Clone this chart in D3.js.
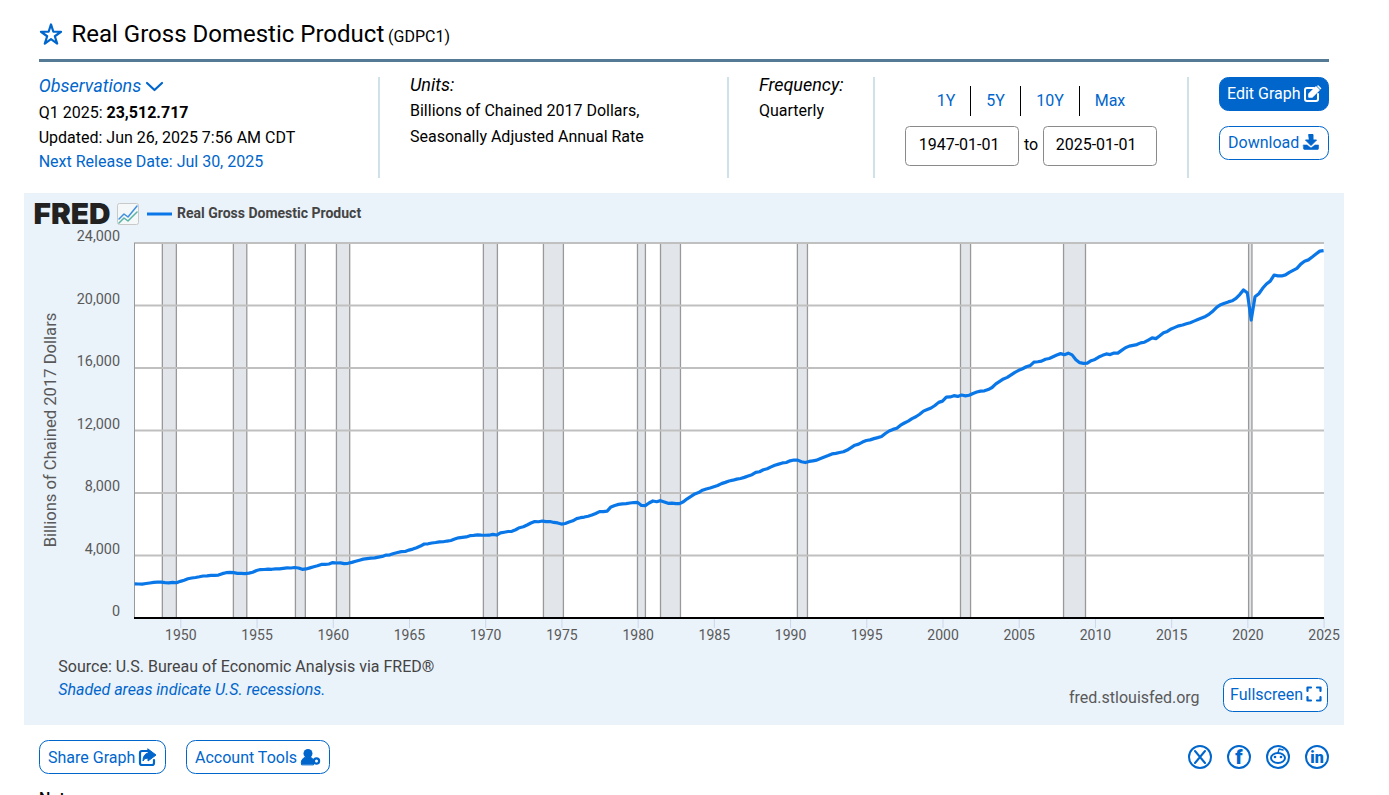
<!DOCTYPE html>
<html><head><meta charset="utf-8">
<script src="https://cdn.jsdelivr.net/npm/d3@7/dist/d3.min.js"></script>
<style>
html,body{margin:0;padding:0;background:#fff;overflow:hidden}
svg{display:block}
text{font-family:Roboto,sans-serif}
</style></head><body><div id="c"></div>
<script>
const startYear = 1947;
const gdpValues = [
2183,2177,2172,2206, 2240,2277,2290,2292, 2261,2253,2276,2257,
2346,2418,2511,2559, 2594,2638,2688,2702, 2722,2726,2749,2839,
2900,2925,2905,2860, 2850,2845,2875,2930, 3040,3100,3105,3125,
3118,3140,3142,3180, 3205,3200,3232,3200, 3115,3140,3210,3280,
3340,3430,3430,3455, 3545,3520,3528,3480, 3500,3560,3630,3700,
3770,3805,3835,3850, 3900,3940,4025,4045, 4130,4190,4245,4255,
4345,4410,4500,4605, 4735,4750,4800,4830, 4875,4880,4925,4960,
5050,5130,5165,5190, 5270,5285,5320,5300, 5295,5300,5355,5310,
5450,5490,5535,5550, 5650,5780,5840,5950, 6080,6175,6160,6205,
6165,6175,6115,6085, 6010,6050,6140,6220, 6360,6420,6460,6515,
6590,6690,6810,6805, 6845,7110,7205,7270, 7300,7320,7360,7390,
7400,7200,7190,7360, 7490,7440,7510,7430, 7340,7350,7320,7320,
7440,7630,7780,7940, 8030,8180,8260,8320, 8400,8480,8600,8680,
8770,8820,8890,8930, 9000,9090,9170,9320, 9360,9490,9550,9670,
9780,9850,9925,9950, 10060,10110,10105,10000, 9950,10020,10060,10105,
10210,10300,10395,10500, 10535,10590,10640,10750, 10900,11060,11130,11260,
11360,11400,11480,11545, 11620,11810,11970,12070, 12140,12340,12480,12600,
12760,12880,13040,13240, 13340,13440,13600,13800, 13880,14130,14150,14230,
14180,14270,14220,14255, 14370,14460,14520,14540, 14620,14750,14980,15140,
15300,15400,15560,15720, 15850,15950,16080,16150, 16380,16400,16440,16560,
16610,16720,16830,16920, 16850,16950,16840,16530, 16340,16300,16310,16470,
16550,16700,16810,16900, 16860,16960,16950,17130, 17300,17400,17450,17500,
17610,17650,17790,17930, 17880,18060,18250,18340, 18500,18600,18700,18750,
18830,18900,19000,19100, 19200,19300,19450,19650, 19900,20050,20150,20230,
20300,20450,20700,21000, 20800,19070,20560,20750, 21100,21380,21560,21950,
21900,21890,21960,22120, 22250,22380,22650,22830, 22920,23100,23290,23480,
23513];
const recessionStarts = [1948.82,1953.48,1957.55,1960.24,1969.88,1973.82,1979.99,1981.5,1990.48,2001.18,2007.94,2020.08];
const recessionEnds   = [1949.74,1954.36,1958.2,1961.11,1970.8,1975.13,1980.51,1982.81,1991.14,2001.84,2009.38,2020.3];
const xTickYears = [1950,1955,1960,1965,1970,1975,1980,1985,1990,1995,2000,2005,2010,2015,2020,2025];
const yTickValues = [0,4000,8000,12000,16000,20000,24000];
const seriesName = "Real Gross Domestic Product";

const BLUE="#0066cc", GREY="#595959";
const svg=d3.select("#c").append("svg").attr("width",1389).attr("height",795);
const T=(x,y,s,o={})=>{const t=svg.append("text").attr("x",x).attr("y",y).text(s)
  .attr("font-size",o.size||16).attr("fill",o.fill||"#000");
  if(o.weight)t.attr("font-weight",o.weight); if(o.italic)t.attr("font-style","italic");
  if(o.anchor)t.attr("text-anchor",o.anchor); if(o.ls)t.attr("letter-spacing",o.ls);return t;};
const L=(x1,y1,x2,y2,c,w)=>svg.append("line").attr("x1",x1).attr("y1",y1).attr("x2",x2).attr("y2",y2).attr("stroke",c).attr("stroke-width",w);
const R=(x,y,w,h,r,fill,stroke)=>svg.append("rect").attr("x",x+.5).attr("y",y+.5).attr("width",w-1).attr("height",h-1).attr("rx",r).attr("fill",fill).attr("stroke",stroke||"none");
const P=(d,o={})=>svg.append("path").attr("d",d).attr("fill",o.fill||"none").attr("stroke",o.stroke||"none").attr("stroke-width",o.w||1).attr("stroke-linecap","round").attr("stroke-linejoin","round");

/* header */
svg.append("path").attr("d",d3.symbol(d3.symbolStar,125)()).attr("transform","translate(51,35)")
  .attr("fill","none").attr("stroke",BLUE).attr("stroke-width",2.2).attr("stroke-linejoin","round");
T(71.5,42,seriesName,{size:24});
T(388,42,"(GDPC1)",{size:16});
L(39,60.5,1329,60.5,"#557a95",3);

T(38.7,92,"Observations",{size:18,fill:BLUE,italic:true});
P("M147 83 L154.5 90 L162 83",{stroke:BLUE,w:2.2});
const q=T(38.7,118,"Q1 2025: ");q.append("tspan").attr("font-weight",700).text("23,512.717");
T(38.7,143,"Updated: Jun 26, 2025 7:56 AM CDT");
T(38.7,167,"Next Release Date: Jul 30, 2025",{fill:BLUE});
[379,728,874,1188].forEach(x=>L(x,77,x,178,"#cfe2ea",2));
T(410,91,"Units:",{size:18,italic:true});
T(410,116,"Billions of Chained 2017 Dollars,");
T(410,142,"Seasonally Adjusted Annual Rate");
T(759,91,"Frequency:",{size:18,italic:true});
T(759,116,"Quarterly");
T(946,106,"1Y",{fill:BLUE,anchor:"middle"});
T(995.5,106,"5Y",{fill:BLUE,anchor:"middle"});
T(1050,106,"10Y",{fill:BLUE,anchor:"middle"});
T(1110,106,"Max",{fill:BLUE,anchor:"middle"});
[970.5,1020.5,1079.5].forEach(x=>L(x,86,x,116,"#000",1));
R(905,126,114,40,4,"#fff","#8a8a8a");
R(1043,126,114,40,4,"#fff","#8a8a8a");
T(918.7,150,"1947-01-01");T(1024,150,"to");T(1055.7,150,"2025-01-01");
R(1219,77,110,34,9,BLUE,BLUE);
T(1227,99,"Edit Graph",{fill:"#fff"});
P("M1314 88 H1307 a2 2 0 0 0 -2 2 V99 a2 2 0 0 0 2 2 H1316 a2 2 0 0 0 2 -2 V94",{stroke:"#fff",w:2});
P("M1309 94 L1309 97 L1312 97 L1319 90 L1316 87 Z M1318 86 L1320.5 88.5",{fill:"#fff",stroke:"#fff",w:1.6});
R(1219,126,110,34,9,"#fff",BLUE);
T(1228,148,"Download",{fill:BLUE});
P("M1309 134.5 h4 v5.5 h3.5 l-5.5 5.5 l-5.5 -5.5 h3.5 Z",{fill:BLUE,stroke:BLUE,w:1});
P("M1303.5 145 h3.5 l4 3 l4 -3 h3.5 v3.5 a1 1 0 0 1 -1 1 h-13 a1 1 0 0 1 -1 -1 Z",{fill:BLUE,stroke:BLUE,w:.6});

/* chart panel */
svg.append("rect").attr("x",24).attr("y",193).attr("width",1320).attr("height",532).attr("fill","#eaf2fa");
const x=d3.scaleLinear().domain([startYear,2025]).range([134.6,1323.6]);
const y=d3.scaleLinear().domain([0,24000]).range([618,243]);
svg.append("rect").attr("x",134).attr("y",243).attr("width",1190).attr("height",375).attr("fill","#fff");

const rec=svg.append("g");
rec.selectAll("rect").data(recessionStarts).join("rect")
  .attr("x",d=>x(d)).attr("y",243)
  .attr("width",(d,i)=>x(recessionEnds[i])-x(d)).attr("height",375)
  .attr("fill","#e2e6ea").attr("stroke","#999").attr("stroke-width",1.3);

const yAxis=d3.axisLeft(y).tickValues(yTickValues).tickSize(0).tickFormat(d3.format(","));
const gy=svg.append("g").attr("transform","translate(120,0)").call(yAxis);
gy.select(".domain").remove();
gy.selectAll("text").attr("x",0).attr("dy",0).attr("y",-2.5).attr("font-size",14.4).attr("fill",GREY).attr("font-family","Roboto");
svg.append("g").selectAll("line").data(yTickValues.filter(v=>v>0)).join("line")
  .attr("x1",134).attr("x2",1324).attr("y1",y).attr("y2",y).attr("stroke","#c0c0c0").attr("stroke-width",1.8);
L(134.5,243,134.5,618,"#999",1);

const xAxis=d3.axisBottom(x).tickValues(xTickYears).tickSize(10).tickPadding(2).tickFormat(d3.format("d"));
const gx=svg.append("g").attr("transform","translate(0,618)").call(xAxis);
gx.select(".domain").remove();
gx.selectAll("line").attr("stroke","#ccd6eb").attr("stroke-width",1);
gx.selectAll("text").attr("font-size",14).attr("fill",GREY).attr("font-family","Roboto");
L(134,618,1324,618,"#000",2);

const line=d3.line().x((d,i)=>x(startYear+i/4)).y(d=>y(d));
svg.append("path").datum(gdpValues).attr("d",line).attr("fill","none").attr("stroke","#0a77e8")
  .attr("stroke-width",3.2).attr("stroke-linejoin","round");

T(0,0,"Billions of Chained 2017 Dollars",{fill:GREY,anchor:"middle",size:16.6})
  .attr("transform","translate(56,430) rotate(-90)");

/* legend */
T(33.5,224,"FRED",{size:29,weight:900,fill:"#222"}).style("font-family","Inter")
  .attr("textLength",77).attr("lengthAdjust","spacingAndGlyphs");
R(117,203,22,22,2,"#f4f8f8","#c9c9c9");
P("M119 219 L124 214 L128 217 L137 206",{stroke:"#3f8fe0",w:1.5});
P("M119 223 L124 218 L128 221 L137 212",{stroke:"#5ab3a5",w:1.5});
L(147,214,172,214,"#0a77e8",3);
T(177,218,seriesName,{size:14,weight:700,fill:"#444"});

T(58.3,672,"Source: U.S. Bureau of Economic Analysis via FRED®",{fill:"#444"});
T(58.3,695,"Shaded areas indicate U.S. recessions.",{fill:BLUE,italic:true});
T(1069,703,"fred.stlouisfed.org",{fill:GREY});
R(1223,678,105,34,9,"#fff",BLUE);
T(1230,700,"Fullscreen",{fill:BLUE});
P("M1307.5 691 v-3.5 h3.5 M1317 687.5 h3.5 v3.5 M1320.5 697 v3.5 h-3.5 M1311 700.5 h-3.5 v-3.5",{stroke:BLUE,w:2.2});

/* footer */
R(39,740,127,34,9,"#fff",BLUE);
T(48,763,"Share Graph",{fill:BLUE});
P("M149 751 h-7 a2 2 0 0 0 -2 2 v10 a2 2 0 0 0 2 2 h10 a2 2 0 0 0 2 -2 v-3",{stroke:BLUE,w:2.2});
P("M148 749 l8 6 l-8 6 v-3 q-4 0 -5 3 q0 -7 5 -8 Z",{fill:BLUE,stroke:BLUE,w:1});
R(186,740,144,34,9,"#fff",BLUE);
T(195,763,"Account Tools",{fill:BLUE});
svg.append("circle").attr("cx",308).attr("cy",753.5).attr("r",4.5).attr("fill",BLUE);
P("M301.5 764.5 a6.5 6 0 0 1 12 -4.5 v4.5 Z",{fill:BLUE,stroke:BLUE,w:1});
svg.append("circle").attr("cx",316.5).attr("cy",761).attr("r",2.6).attr("fill","#fff").attr("stroke",BLUE).attr("stroke-width",2.2);

const socials=[1200,1239,1278,1317];
svg.append("g").selectAll("circle").data(socials).join("circle")
  .attr("cx",d=>d).attr("cy",757).attr("r",11).attr("fill","#fff").attr("stroke",BLUE).attr("stroke-width",2);
P("M1195 751 L1205 763 M1205 751 L1195 763",{stroke:BLUE,w:2});
T(1239,764,"f",{size:20,weight:900,fill:BLUE,anchor:"middle"});
svg.append("ellipse").attr("cx",1278).attr("cy",758).attr("rx",7).attr("ry",5).attr("fill","none").attr("stroke",BLUE).attr("stroke-width",2);
svg.append("circle").attr("cx",1275).attr("cy",757).attr("r",1.3).attr("fill",BLUE);
svg.append("circle").attr("cx",1281).attr("cy",757).attr("r",1.3).attr("fill",BLUE);
P("M1278 753 L1279 749 L1283 750",{stroke:BLUE,w:1.4});
T(1317,763,"in",{size:16,weight:900,fill:BLUE,anchor:"middle"});
T(39,804,"Notes",{size:16,weight:500});
</script></body></html>
